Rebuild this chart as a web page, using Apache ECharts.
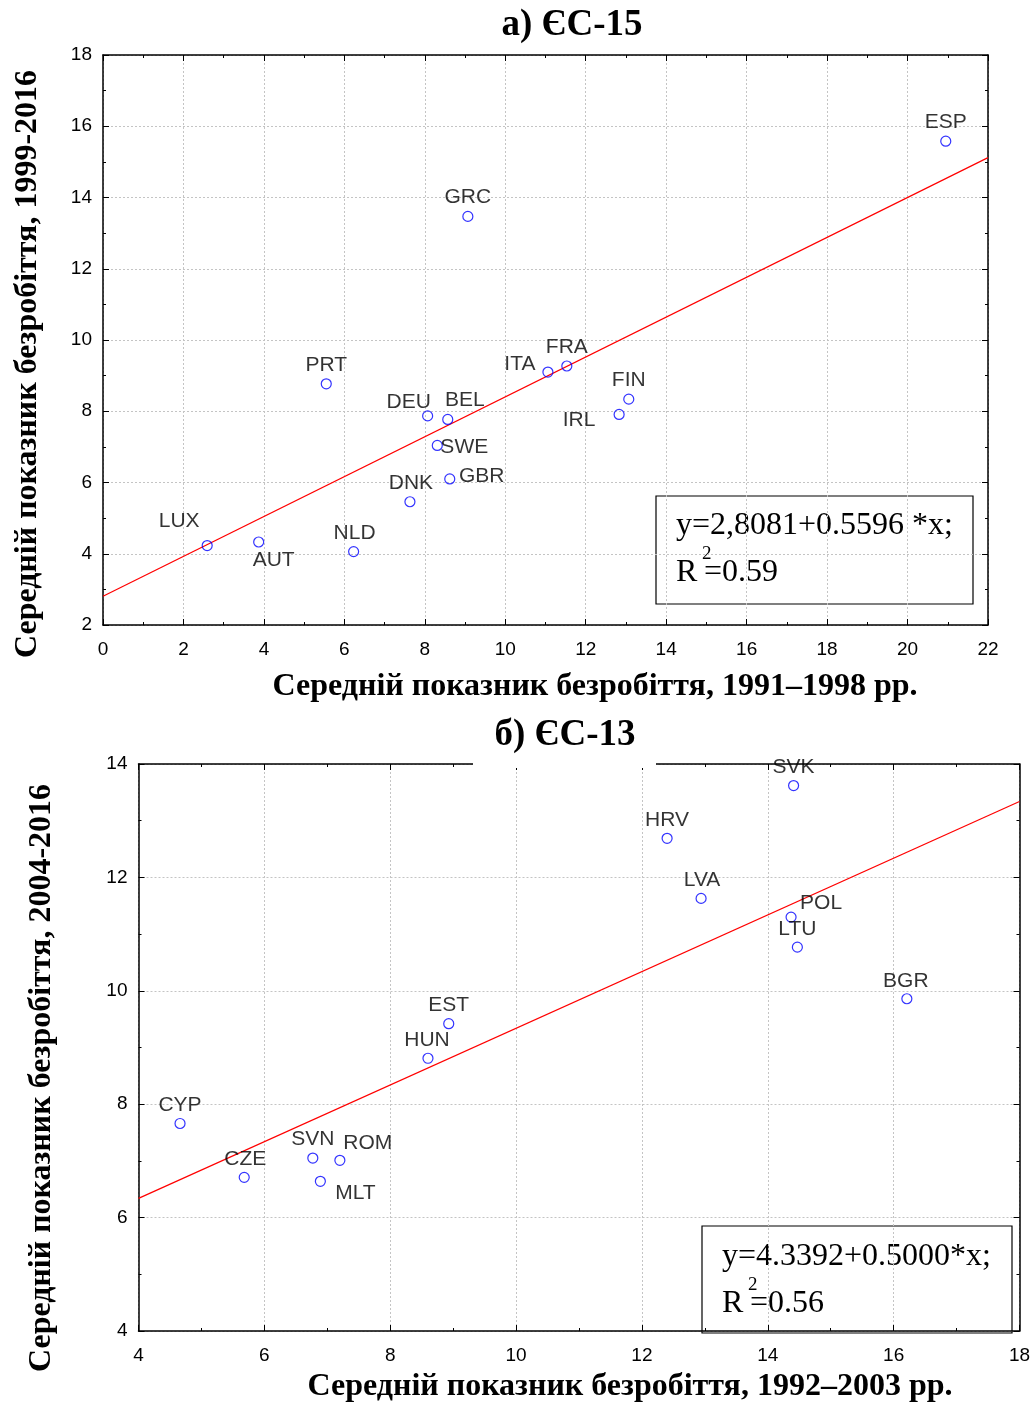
<!DOCTYPE html>
<html>
<head>
<meta charset="utf-8">
<script src="https://cdn.jsdelivr.net/npm/echarts@6/dist/echarts.min.js"></script>
<style>
  html, body { margin: 0; padding: 0; background: #fff; }
  #chart { width: 1034px; height: 1405px; }
</style>
</head>
<body>
<div id="chart"></div>
<script>
// а) ЄС-15
const euNames15 = ['ESP', 'GRC', 'PRT', 'DEU', 'BEL', 'SWE', 'GBR', 'DNK', 'NLD', 'AUT', 'LUX', 'ITA', 'FRA', 'FIN', 'IRL'];
const eu15x = [20.95, 9.07, 5.55, 8.07, 8.57, 8.31, 8.62, 7.63, 6.23, 3.87, 2.59, 11.06, 11.53, 13.07, 12.83];
const eu15y = [15.58, 13.47, 8.77, 7.87, 7.77, 7.04, 6.10, 5.46, 4.06, 4.33, 4.23, 9.10, 9.27, 8.34, 7.91];
const fit15 = [2.8081, 0.5596];
const eq15 = ['y=2,8081+0.5596 *x;', 'R', '2', '=0.59'];

// б) ЄС-13
const euNames13 = ['SVK', 'HRV', 'LVA', 'POL', 'LTU', 'BGR', 'EST', 'HUN', 'CYP', 'CZE', 'SVN', 'ROM', 'MLT'];
const eu13x = [14.41, 12.40, 12.94, 14.37, 14.47, 16.21, 8.93, 8.60, 4.66, 5.68, 6.77, 7.20, 6.89];
const eu13y = [13.62, 12.69, 11.63, 11.30, 10.77, 9.86, 9.42, 8.81, 7.66, 6.71, 7.05, 7.01, 6.64];
const fit13 = [4.3392, 0.5000];
const eq13 = ['y=4.3392+0.5000*x;', 'R', '2', '=0.56'];

const titles = ['а) ЄС-15', 'б) ЄС-13'];
const xNames = ['Середній показник безробіття, 1991–1998 рр.', 'Середній показник безробіття, 1992–2003 рр.'];
const yNames = ['Середній показник безробіття, 1999-2016', 'Середній показник безробіття, 2004-2016'];

// label offsets from the marker centre (layout only)
const labelOffset = {
  ESP: [0, -19], GRC: [0, -19], PRT: [0, -19], DEU: [-19, -14], BEL: [17, -19],
  SWE: [27, 2], GBR: [32, -3], DNK: [1, -19], NLD: [1, -18], AUT: [15, 18],
  LUX: [-28, -24], ITA: [-28, -8], FRA: [0, -19], FIN: [0, -19], IRL: [-40, 6],
  SVK: [0, -18], HRV: [0, -18], LVA: [1, -18], POL: [30, -14], LTU: [0, -18],
  BGR: [-1, -18], EST: [0, -18], HUN: [-1, -18], CYP: [0, -18], CZE: [1, -18],
  SVN: [0, -19], ROM: [28, -17], MLT: [35, 12]
};

const SANS = 'Liberation Sans, Arial, sans-serif';
const SERIF = 'Liberation Serif, Times New Roman, serif';

const chart = echarts.init(document.getElementById('chart'));

function pts(names, xs, ys) {
  return names.map((n, i) => ({
    name: n,
    value: [xs[i], ys[i]],
    label: { offset: labelOffset[n] || [0, -18] }
  }));
}

function fitLine(fit, x0, x1) {
  return [[x0, fit[0] + fit[1] * x0], [x1, fit[0] + fit[1] * x1]];
}

function xAxis(grid, min, max, pos, labels) {
  return {
    type: 'value', gridIndex: grid, min: min, max: max, interval: 2, position: pos,
    axisLine: { show: true, onZero: false, lineStyle: { color: '#000', width: 1.5 } },
    axisTick: { show: true, inside: true, length: 6, lineStyle: { color: '#000' } },
    minorTick: { show: true, splitNumber: 2, length: 3, lineStyle: { color: '#000' } },
    axisLabel: { show: labels, color: '#000', fontSize: 19, fontFamily: SANS, margin: 15 },
    splitLine: { show: labels, lineStyle: { color: '#c4c4c4', type: [2, 2], width: 1 } }
  };
}

function yAxis(grid, min, max, pos, labels) {
  return {
    type: 'value', gridIndex: grid, min: min, max: max, interval: 2, position: pos,
    axisLine: { show: true, onZero: false, lineStyle: { color: '#000', width: 1.5 } },
    axisTick: { show: true, inside: true, length: 6, lineStyle: { color: '#000' } },
    minorTick: { show: true, splitNumber: 2, length: 3, lineStyle: { color: '#000' } },
    axisLabel: { show: labels, color: '#000', fontSize: 19, fontFamily: SANS, margin: 11 },
    splitLine: { show: labels, lineStyle: { color: '#c4c4c4', type: [2, 2], width: 1 } }
  };
}

function scatter(idx, names, xs, ys) {
  return {
    type: 'scatter', xAxisIndex: idx, yAxisIndex: idx,
    symbol: 'circle', symbolSize: 10, z: 5,
    itemStyle: { color: 'rgba(0,0,0,0)', borderColor: '#0000ff', borderWidth: 1.2 },
    label: {
      show: true, position: 'inside', formatter: '{b}',
      color: '#000', fontSize: 21, fontFamily: SANS
    },
    data: pts(names, xs, ys)
  };
}

function regLine(idx, fit, x0, x1) {
  return {
    type: 'line', xAxisIndex: idx, yAxisIndex: idx, silent: true,
    symbol: 'none', z: 3,
    lineStyle: { color: '#ff0000', width: 1.2 },
    data: fitLine(fit, x0, x1)
  };
}

function eqBox(x, y, w, h, eq, tx, ty1, ty2) {
  return {
    type: 'group', z: 20,
    children: [
      { type: 'rect', shape: { x: x, y: y, width: w, height: h },
        style: { fill: '#fff', stroke: '#000', lineWidth: 1.2 } },
      { type: 'text', x: tx, y: ty1,
        style: { text: eq[0], font: '32px ' + SERIF, fill: '#000', verticalAlign: 'middle' } },
      { type: 'text', x: tx, y: ty2,
        style: { text: eq[1], font: '32px ' + SERIF, fill: '#000', verticalAlign: 'middle' } },
      { type: 'text', x: tx + 26, y: ty2 - 19,
        style: { text: eq[2], font: '19px ' + SERIF, fill: '#000', verticalAlign: 'middle' } },
      { type: 'text', x: tx + 28, y: ty2,
        style: { text: eq[3], font: '32px ' + SERIF, fill: '#000', verticalAlign: 'middle' } }
    ]
  };
}

function label(text, x, y, rot) {
  return {
    type: 'text', x: x, y: y, rotation: rot || 0, z: 20,
    style: { text: text, font: 'bold 32px ' + SERIF, fill: '#000', textAlign: 'center', verticalAlign: 'middle' }
  };
}

const option = {
  animation: false,
  backgroundColor: '#fff',
  grid: [
    { left: 103, top: 55, width: 885, height: 570 },
    { left: 138.5, top: 764, width: 881, height: 567 }
  ],
  xAxis: [
    xAxis(0, 0, 22, 'bottom', true),
    xAxis(0, 0, 22, 'top', false),
    xAxis(1, 4, 18, 'bottom', true),
    xAxis(1, 4, 18, 'top', false)
  ],
  yAxis: [
    yAxis(0, 2, 18, 'left', true),
    yAxis(0, 2, 18, 'right', false),
    yAxis(1, 4, 14, 'left', true),
    yAxis(1, 4, 14, 'right', false)
  ],
  series: [
    regLine(0, fit15, 0, 22),
    scatter(0, euNames15, eu15x, eu15y),
    regLine(2, fit13, 4, 18),
    scatter(2, euNames13, eu13x, eu13y)
  ],
  graphic: [
    { type: 'text', x: 572, y: 25, z: 20,
      style: { text: titles[0], font: 'bold 37px ' + SERIF, fill: '#000', textAlign: 'center', verticalAlign: 'middle' } },
    { type: 'rect', z: 19, shape: { x: 473, y: 712, width: 183, height: 56 }, style: { fill: '#fff' } },
    { type: 'text', x: 565, y: 735, z: 20,
      style: { text: titles[1], font: 'bold 37px ' + SERIF, fill: '#000', textAlign: 'center', verticalAlign: 'middle' } },
    label(xNames[0], 595, 687),
    label(yNames[0], 28, 364, Math.PI / 2),
    label(xNames[1], 630, 1387),
    label(yNames[1], 42, 1078, Math.PI / 2),
    eqBox(656, 496, 317, 108, eq15, 676, 526, 573),
    eqBox(702, 1226, 310, 107, eq13, 722, 1257, 1304)
  ]
};

chart.setOption(option);
</script>
</body>
</html>
